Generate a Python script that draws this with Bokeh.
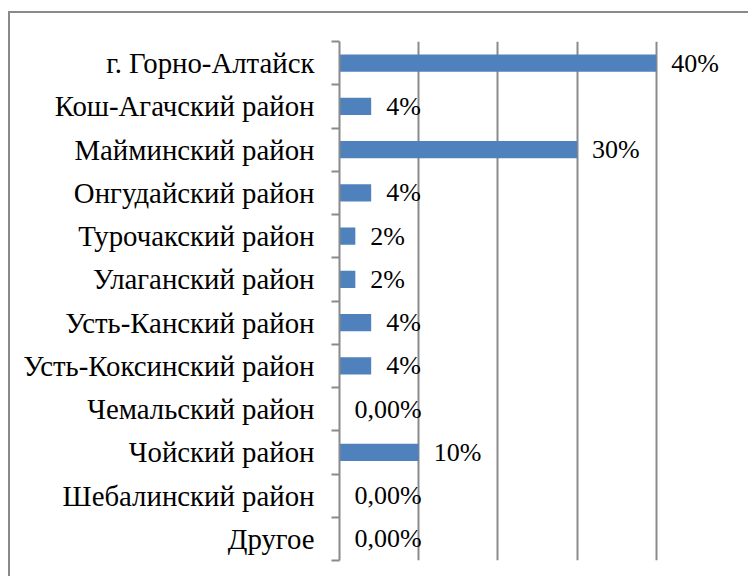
from bokeh.plotting import figure
from bokeh.models import Range1d, FixedTicker, ColumnDataSource
from bokeh.core.properties import value
from bokeh.embed import file_html
from bokeh.resources import INLINE

categories = ["г. Горно-Алтайск", "Кош-Агачский район", "Майминский район",
              "Онгудайский район", "Турочакский район", "Улаганский район",
              "Усть-Канский район", "Усть-Коксинский район", "Чемальский район",
              "Чойский район", "Шебалинский район", "Другое"]
values = [40, 4, 30, 4, 2, 2, 4, 4, 0, 10, 0, 0]
value_labels = ["40%", "4%", "30%", "4%", "2%", "2%", "4%", "4%",
                "0,00%", "10%", "0,00%", "0,00%"]
grid_ticks = [0, 10, 20, 30, 40, 50]

n = len(categories)
centers = [i + 0.5 for i in range(n)]
boundaries = list(range(n + 1))

FONT = "Liberation Serif"
GREY = "#8a8a8a"

p = figure(width=740, height=565, output_backend="svg", toolbar_location=None,
           x_range=Range1d(0, 50), y_range=Range1d(n, 0),
           min_border_left=329, min_border_right=15, min_border_top=28,
           min_border_bottom=18, outline_line_color=None)
p.styles = {"border-left": "2px solid " + GREY, "border-top": "2px solid " + GREY,
            "margin-top": "11px", "margin-left": "8px"}

src = ColumnDataSource(dict(y=centers, v=values, lab=value_labels))
p.hbar(y="y", left=0, right="v", height=0.4, source=src,
       fill_color="#4f81bd", line_color=None)
p.text(x="v", y="y", text="lab", source=src, x_offset=15,
       text_baseline="middle", text_align="left",
       text_font=value(FONT), text_font_size="26px", text_color="#000000")

p.xaxis.visible = False
p.xgrid.ticker = FixedTicker(ticks=grid_ticks)
p.xgrid.grid_line_color = GREY
p.xgrid.grid_line_width = 2
p.ygrid.visible = False

ax = p.yaxis[0]
ax.ticker = FixedTicker(ticks=centers, minor_ticks=boundaries)
ax.major_label_overrides = {c: name for c, name in zip(centers, categories)}
ax.major_tick_out = 0
ax.major_tick_in = 0
ax.minor_tick_out = 8
ax.minor_tick_in = 0
ax.minor_tick_line_color = GREY
ax.minor_tick_line_width = 2
ax.axis_line_color = GREY
ax.axis_line_width = 2
ax.major_label_standoff = 17
ax.major_label_text_font = FONT
ax.major_label_text_font_size = "28.8px"
ax.major_label_text_color = "#000000"

open("out.html", "w").write(file_html(p, INLINE))
